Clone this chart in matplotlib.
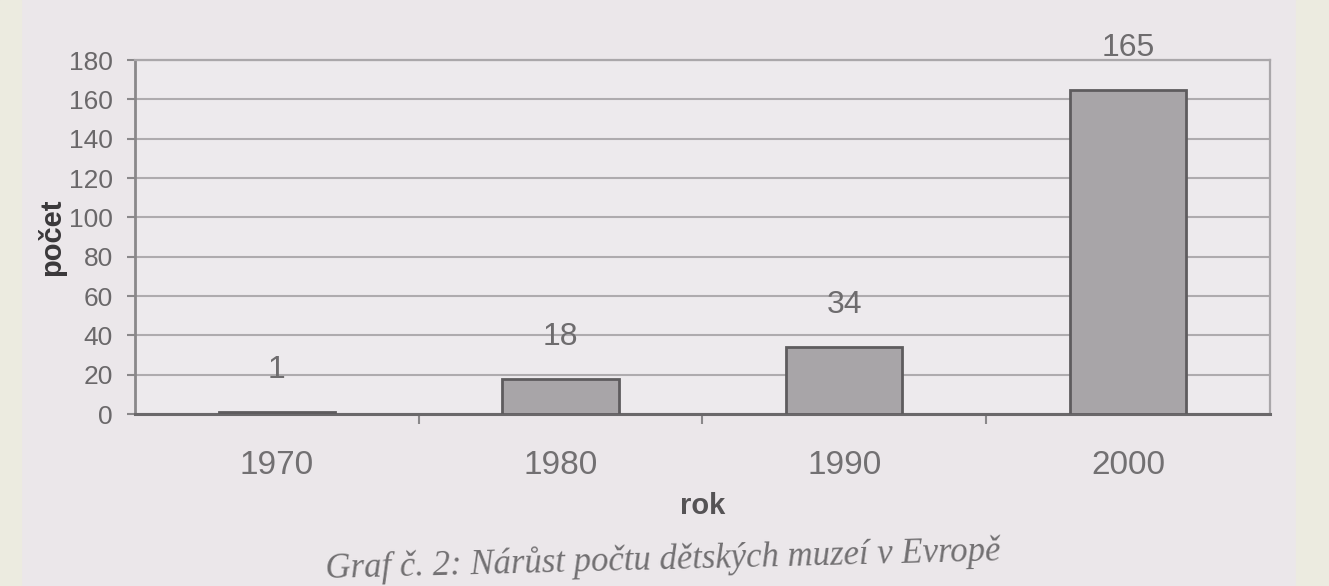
import numpy as np
import matplotlib.pyplot as plt

# data
years = ["1970", "1980", "1990", "2000"]
counts = [1, 18, 34, 165]
y_ticks = [0, 20, 40, 60, 80, 100, 120, 140, 160, 180]

plt.rcParams["font.family"] = ["Liberation Sans", "DejaVu Sans"]

fig = plt.figure(figsize=(13.29, 5.86), dpi=100)
fig.patch.set_facecolor("#ebe7ea")

# beige border of the scan
fig.add_artist(plt.Rectangle((0, 0), 0.016, 1, transform=fig.transFigure,
                             color="#ecebe0", zorder=0))
fig.add_artist(plt.Rectangle((0.975, 0), 0.025, 1, transform=fig.transFigure,
                             color="#ecebe0", zorder=0))

ax = fig.add_axes([0.1015, 0.2935, 0.854, 0.604])
ax.set_facecolor("#edeaed")

x = np.arange(len(years))
ax.bar(x, counts, width=0.41, color="#a8a5a8", edgecolor="#5e5c5e",
       linewidth=2.0, zorder=3)

for xi, v in zip(x, counts):
    ax.annotate(str(v), (xi, v), xytext=(0, 30), textcoords="offset points",
                ha="center", va="center", fontsize=23, color="#6e6c6e")

ax.set_ylim(0, 180)
ax.set_xlim(-0.5, len(years) - 0.5)
ax.set_yticks(y_ticks)
ax.yaxis.grid(True, color="#aeabae", linewidth=1.5, zorder=0)
ax.set_xticks(x)
ax.set_xticklabels(years)
ax.set_xticks(x[:-1] + 0.5, minor=True)
ax.tick_params(axis="x", which="major", length=0, pad=26, labelsize=24,
               labelcolor="#727072")
ax.tick_params(axis="x", which="minor", length=7, width=1.5, color="#8a888a",
               direction="out")
ax.tick_params(axis="y", length=6, width=1.5, color="#8a888a", labelsize=19,
               labelcolor="#6a686a", pad=10)

ax.spines["left"].set_color("#8a888a")
ax.spines["left"].set_linewidth(2.0)
ax.spines["bottom"].set_color("#6a686a")
ax.spines["bottom"].set_linewidth(2.2)
for side in ["top", "right"]:
    ax.spines[side].set_color("#aaa7aa")
    ax.spines[side].set_linewidth(1.6)

ax.set_xlabel("rok", fontsize=21, fontweight="bold", color="#555355",
              labelpad=8)
ax.set_ylabel("počet", fontsize=21, fontweight="bold", color="#3a383a",
              labelpad=2)

fig.text(0.499, 0.044, "Graf č. 2: Nárůst počtu dětských muzeí v Evropě",
         ha="center", va="center", fontsize=25, style="italic",
         family="Liberation Serif", color="#727072", rotation=1.5)

fig.savefig("out.png", dpi=100, facecolor=fig.get_facecolor())
